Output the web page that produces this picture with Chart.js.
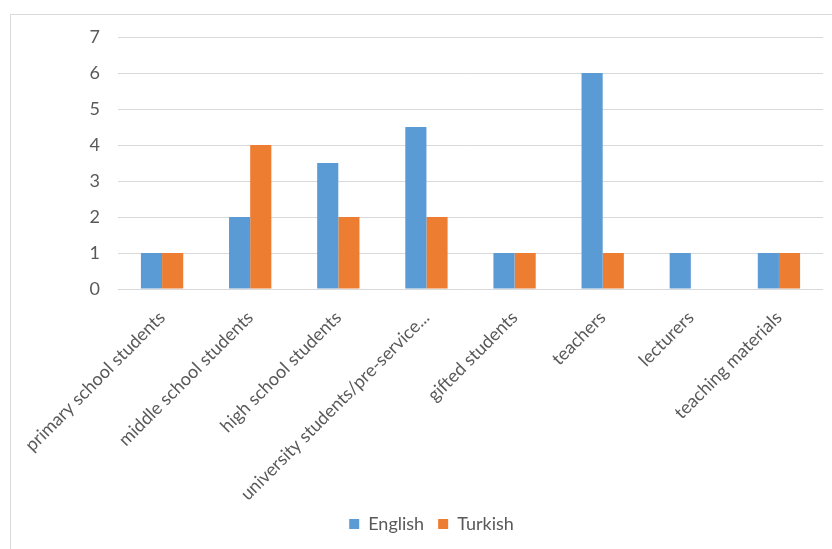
<!DOCTYPE html>
<html>
<head>
<meta charset="utf-8">
<script src="https://cdn.jsdelivr.net/npm/chart.js@4"></script>
<style>
  body { margin: 0; background: #fff; }
  #wrap { position: relative; width: 832px; height: 549px; overflow: hidden; }
  #frame { position: absolute; left: 10px; top: 14px; width: 850px; height: 560px;
           border: 1px solid #d9d9d9; box-sizing: border-box; }
  canvas { position: absolute; left: 0; top: 0; }
</style>
</head>
<body>
<div id="wrap">
  <div id="frame"></div>
  <canvas id="chart" width="832" height="549"></canvas>
</div>
<script>
const categories = [
  "primary school students",
  "middle school students",
  "high school students",
  "university students/pre-service...",
  "gifted students",
  "teachers",
  "lecturers",
  "teaching materials"
];
const english = [1, 2, 3.5, 4.5, 1, 6, 1, 1];
const turkish = [1, 4, 2, 2, 1, 1, null, 1];
const yTicks = [0, 1, 2, 3, 4, 5, 6, 7];

const font = "Lato, 'Open Sans', sans-serif";
const grey = "#595959";

const ctx = document.getElementById("chart").getContext("2d");

new Chart(ctx, {
  type: "bar",
  data: {
    labels: categories,
    datasets: [{
      label: "English",
      data: english,
      backgroundColor: "#5B9BD5"
    }, {
      label: "Turkish",
      data: turkish,
      backgroundColor: "#ED7D31"
    }]
  },
  options: {
    responsive: false,
    animation: false,
    // left padding only moves the legend's centre; y axis width makes up the rest
    layout: { padding: { left: 40, right: 9, top: 37, bottom: 6 } },
    datasets: {
      bar: { categoryPercentage: 0.48, barPercentage: 1 }
    },
    plugins: {
      legend: {
        position: "bottom",
        labels: {
          boxWidth: 10,
          boxHeight: 10,
          padding: 14,
          color: grey,
          font: { family: font, size: 18 }
        }
      },
      tooltip: { enabled: false }
    },
    scales: {
      x: {
        afterFit: (scale) => { scale.height = 212; },
        grid: { display: false },
        border: { display: false },
        ticks: {
          color: grey,
          font: { family: font, size: 18 },
          maxRotation: 45,
          minRotation: 45,
          autoSkip: false,
          padding: 10
        }
      },
      y: {
        min: yTicks[0],
        max: yTicks[yTicks.length - 1],
        afterFit: (scale) => { scale.width = 78; },
        afterBuildTicks: (scale) => { scale.ticks = yTicks.map(v => ({ value: v })); },
        grid: { color: "#d9d9d9", lineWidth: 1, drawTicks: false },
        border: { display: false },
        ticks: {
          color: grey,
          font: { family: font, size: 18 },
          padding: 18
        }
      }
    }
  }
});
</script>
</body>
</html>
